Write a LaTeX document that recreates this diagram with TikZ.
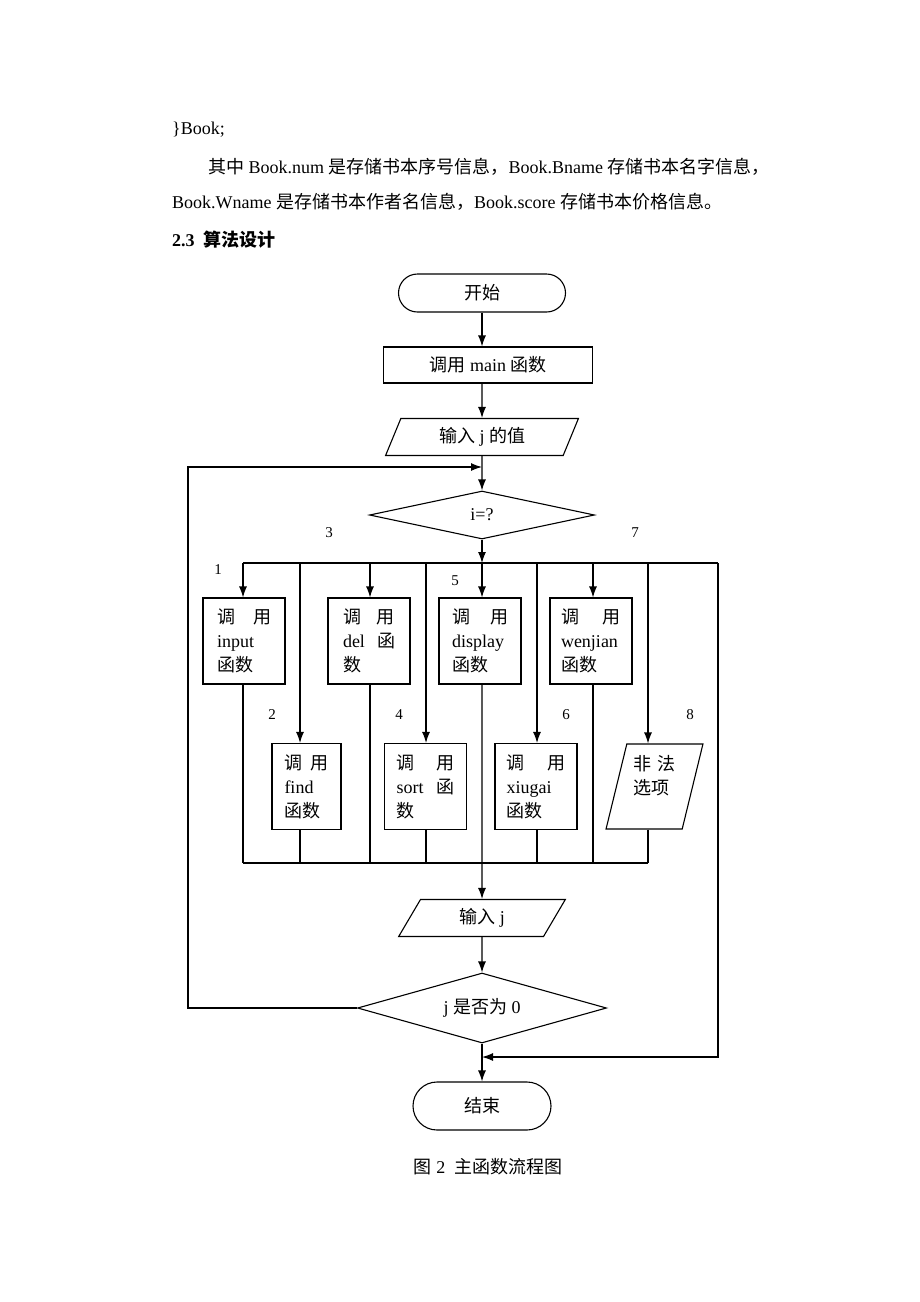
\documentclass[tikz,border=0pt]{standalone}
\usepackage{fontspec}
\setmainfont{Liberation Serif}
\newfontfamily\cjkfont{Noto Sans CJK SC}
\newcommand{\zh}[1]{{\cjkfont #1}}
\usepackage{tikz}
\usetikzlibrary{positioning}
\usetikzlibrary{arrows,arrows.meta,shapes}
\usetikzlibrary{shapes.geometric}
\usetikzlibrary{calc}
\tikzstyle{termbox}=[draw,line width=1.1pt,rounded corners=19pt,minimum width=167pt,minimum height=38pt,inner sep=0pt]
\tikzstyle{procbox}=[draw,line width=1.1pt,minimum width=209pt,minimum height=36pt,inner sep=0pt]
\tikzstyle{iobox}=[draw,line width=1.1pt,trapezium,trapezium left angle=67,trapezium right angle=113,trapezium stretches=true,minimum height=37pt,inner sep=0pt]
\tikzstyle{decbox}=[draw,line width=1.1pt,diamond,inner sep=0pt]
\tikzstyle{callbox}=[draw,line width=1.1pt,align=left,inner sep=0pt,font=\fontsize{18}{24}\selectfont]
\tikzstyle{edge}=[draw,line width=1.1pt,-{Latex[length=11pt,width=8pt]}]
\tikzstyle{wire}=[draw,line width=1.1pt]
\tikzstyle{num}=[font=\fontsize{15}{18}\selectfont]
\tikzstyle{body}=[anchor=west,inner sep=0pt,font=\fontsize{18}{22}\selectfont]

\begin{document}
\begin{tikzpicture}[x=1pt,y=-1pt,font=\fontsize{18}{22}\selectfont]
\useasboundingbox (0,0) rectangle (920,1302);

% text above the chart
\node[body] (t1) at (172,130) {\}Book;};
\node[body] (t2) at (208,167) {\zh{其中} Book.num \zh{是存储书本序号信息，}Book.Bname \zh{存储书本名字信息，}};
\node[body] (t3) at (172,202) {Book.Wname \zh{是存储书本作者名信息，}Book.score \zh{存储书本价格信息。}};
\node[body] (t4) at (172,240) {\textbf{2.3}\ \ {\bfseries\zh{算法设计}}};

% main chain
\node[termbox] (start) at (482,293) {\zh{开始}};
\node[procbox] (mainf) at (488,365) {\zh{调用} main \zh{函数}};
\node[iobox, minimum width=193pt] (in1) at (482,437) {\zh{输入} j \zh{的值}};
\node[decbox, aspect=4.7, minimum width=225pt, minimum height=48pt] (dec1) at (482,515) {i=?};
\node[iobox, minimum width=167pt] (in2) at (482,918) {\zh{输入} j};
\node[decbox, aspect=3.5, minimum width=249pt, minimum height=70pt] (dec2) at (482,1008) {j \zh{是否为} 0};
\node[termbox, rounded corners=24pt, minimum width=138pt, minimum height=48pt] (stop) at (482,1106) {\zh{结束}};

% the eight choices
\foreach \pos/\name/\tw/\txt in {{(244,641)/b1/54/{\zh{调}\hfill\zh{用}\\input\\\zh{函数}}},
    {(369,641)/b3/52/{\zh{调}\hfill\zh{用}\\del\hfill\zh{函}\\\zh{数}}},
    {(480,641)/b5/56/{\zh{调}\hfill\zh{用}\\display\\\zh{函数}}},
    {(591,641)/b7/60/{\zh{调}\hfill\zh{用}\\wenjian\\\zh{函数}}},
    {(425.5,786.5)/b4/58/{\zh{调}\hfill\zh{用}\\sort\hfill\zh{函}\\\zh{数}}},
    {(536,786.5)/b6/59/{\zh{调}\hfill\zh{用}\\xiugai\\\zh{函数}}}}
    \node[callbox, text width=\tw pt, minimum width=82pt, minimum height=86pt] (\name) at \pos {\txt};
\node[callbox, text width=44pt, minimum width=69pt, minimum height=86pt] (b2) at (306.5,786.5) {\zh{调}\hfill\zh{用}\\find\\\zh{函数}};
\node[callbox, trapezium, trapezium left angle=76, trapezium right angle=104, trapezium stretches=true, text width=42pt, minimum width=97pt, minimum height=85pt] (b8) at (654.5,786.5) {\zh{非}\hfill\zh{法}\\\zh{选项}\\~};

% bus lines
\coordinate (bus) at (482,563);
\coordinate (rc) at (718,563);
\coordinate (rb) at (718,1057);
\coordinate (join2) at (482,1057);
\coordinate (join) at (482,467);
\coordinate (lft) at (188,467);
\coordinate (bb) at (482,863);
\foreach \x/\name in {243/c1, 300/c2, 370/c3, 426/c4, 482/c5, 537/c6, 593/c7, 648/c8}
    \coordinate (\name) at (\x,563);

% numbers of the choices
\foreach \pos/\name/\label in {{(218,570)/n1/1}, {(272,715)/n2/2}, {(329,533)/n3/3}, {(399,715)/n4/4},
    {(455,581)/n5/5}, {(566,715)/n6/6}, {(635,533)/n7/7}, {(690,715)/n8/8}}
    \node[num] (\name) at \pos {\label};

% connect everything
\draw[edge] (start) -- (start |- mainf.north);
\draw[edge] (start |- mainf.south) -- (in1.north);
\draw[edge] (in1.south) -- (dec1.north);
\draw[edge] (dec1.south) -- (bus);
\path[wire] (c1) -- (rc);
\foreach \col/\blk in {c1/b1, c2/b2, c3/b3, c4/b4, c5/b5, c6/b6, c7/b7, c8/b8}
    \draw[edge] (\col) -- (\col |- \blk.north);
\foreach \col/\blk in {c1/b1, c2/b2, c3/b3, c4/b4, c6/b6, c7/b7, c8/b8}
    \path[wire] (\col |- \blk.south) -- (\col |- bb);
\path[wire] (c1 |- bb) -- (c8 |- bb);
\draw[edge] (c5 |- b5.south) -- (in2.north);
\draw[edge] (in2.south) -- (dec2.north);
\draw[edge] (dec2.west) -| (lft) -- (join);
\draw[edge] (rc) -- (rb) -- (join2);
\draw[edge] (dec2.south) -- (stop.north);

\node (cap) at (488,1167) {\zh{图} 2\ \ \zh{主函数流程图}};

\end{tikzpicture}
\end{document}
